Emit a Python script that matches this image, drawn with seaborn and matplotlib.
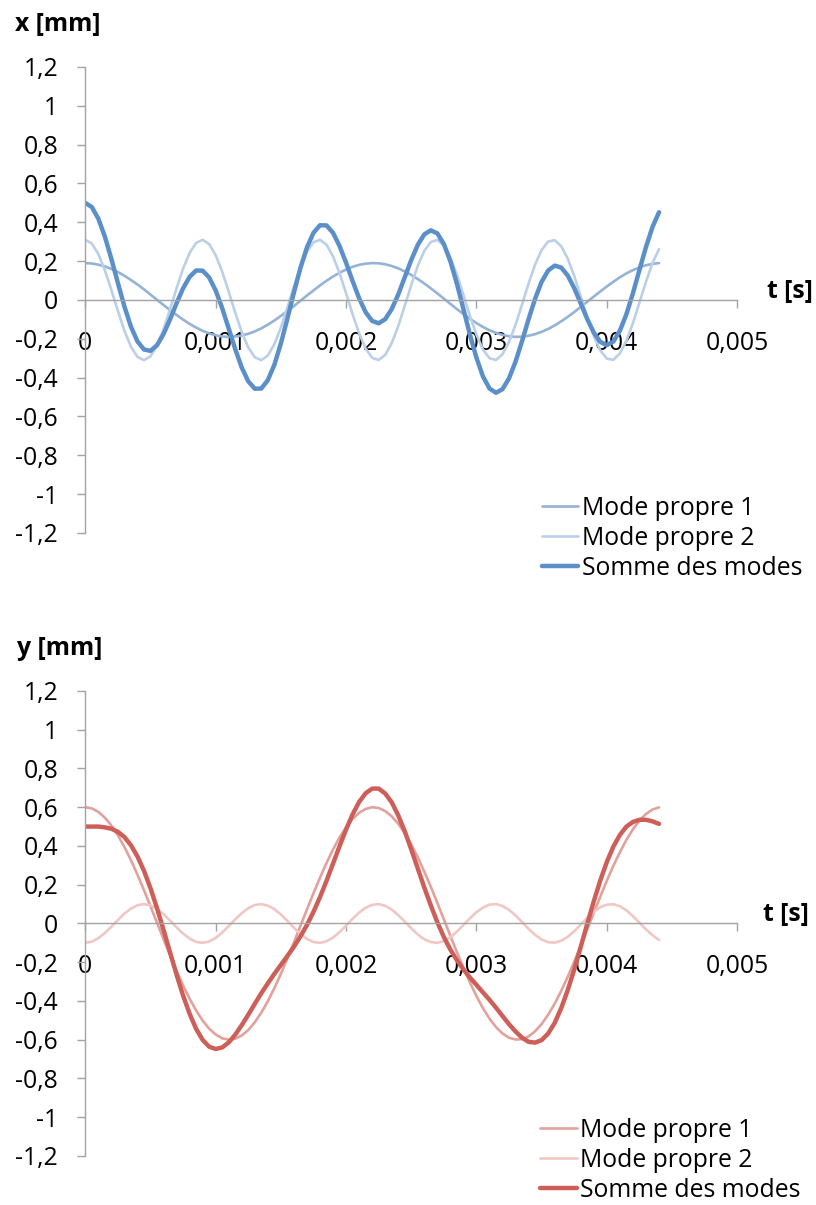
import matplotlib
matplotlib.use("Agg")
import matplotlib.pyplot as plt
import seaborn as sns
import pandas as pd

# Time samples [s]
t_s = [
    0.0, 0.00005, 0.0001, 0.00015, 0.0002, 0.00025, 0.0003, 0.00035, 0.0004, 0.00045,
    0.0005, 0.00055, 0.0006, 0.00065, 0.0007, 0.00075, 0.0008, 0.00085, 0.0009, 0.00095,
    0.001, 0.00105, 0.0011, 0.00115, 0.0012, 0.00125, 0.0013, 0.00135, 0.0014, 0.00145,
    0.0015, 0.00155, 0.0016, 0.00165, 0.0017, 0.00175, 0.0018, 0.00185, 0.0019, 0.00195,
    0.002, 0.00205, 0.0021, 0.00215, 0.0022, 0.00225, 0.0023, 0.00235, 0.0024, 0.00245,
    0.0025, 0.00255, 0.0026, 0.00265, 0.0027, 0.00275, 0.0028, 0.00285, 0.0029, 0.00295,
    0.003, 0.00305, 0.0031, 0.00315, 0.0032, 0.00325, 0.0033, 0.00335, 0.0034, 0.00345,
    0.0035, 0.00355, 0.0036, 0.00365, 0.0037, 0.00375, 0.0038, 0.00385, 0.0039, 0.00395,
    0.004, 0.00405, 0.0041, 0.00415, 0.0042, 0.00425, 0.0043, 0.00435, 0.0044,
]

# Displacement x [mm]
x_mode1 = [
    0.190, 0.188, 0.182, 0.173, 0.160, 0.144, 0.125, 0.103, 0.080, 0.055,
    0.028, 0.001, -0.026, -0.052, -0.077, -0.101, -0.123, -0.142, -0.159, -0.172,
    -0.182, -0.188, -0.190, -0.188, -0.183, -0.174, -0.162, -0.146, -0.127, -0.106,
    -0.082, -0.057, -0.031, -0.004, 0.023, 0.049, 0.075, 0.099, 0.121, 0.140,
    0.157, 0.171, 0.181, 0.187, 0.190, 0.189, 0.184, 0.175, 0.163, 0.147,
    0.129, 0.108, 0.085, 0.060, 0.034, 0.007, -0.020, -0.047, -0.072, -0.097,
    -0.119, -0.139, -0.156, -0.169, -0.180, -0.187, -0.190, -0.189, -0.184, -0.176,
    -0.164, -0.149, -0.131, -0.110, -0.087, -0.062, -0.036, -0.009, 0.018, 0.044,
    0.070, 0.094, 0.117, 0.137, 0.154, 0.168, 0.179, 0.186, 0.190,
]
x_mode2 = [
    0.310, 0.291, 0.237, 0.154, 0.052, -0.056, -0.158, -0.240, -0.293, -0.310,
    -0.290, -0.234, -0.150, -0.048, 0.060, 0.161, 0.242, 0.294, 0.310, 0.288,
    0.231, 0.146, 0.043, -0.065, -0.165, -0.245, -0.295, -0.310, -0.286, -0.228,
    -0.142, -0.039, 0.069, 0.169, 0.248, 0.297, 0.310, 0.285, 0.225, 0.138,
    0.035, -0.073, -0.172, -0.250, -0.298, -0.309, -0.283, -0.222, -0.135, -0.030,
    0.077, 0.176, 0.253, 0.299, 0.309, 0.281, 0.219, 0.131, 0.026, -0.082,
    -0.179, -0.255, -0.300, -0.309, -0.279, -0.216, -0.127, -0.022, 0.086, 0.183,
    0.258, 0.301, 0.308, 0.277, 0.213, 0.123, 0.018, -0.090, -0.186, -0.260,
    -0.302, -0.308, -0.275, -0.210, -0.119, -0.013, 0.094, 0.190, 0.262,
]
x_sum = [
    0.500, 0.479, 0.419, 0.327, 0.212, 0.088, -0.033, -0.137, -0.213, -0.255,
    -0.262, -0.233, -0.176, -0.100, -0.017, 0.060, 0.119, 0.152, 0.151, 0.116,
    0.049, -0.042, -0.147, -0.253, -0.348, -0.419, -0.457, -0.456, -0.413, -0.334,
    -0.224, -0.096, 0.038, 0.165, 0.271, 0.346, 0.385, 0.384, 0.346, 0.278,
    0.192, 0.098, 0.009, -0.063, -0.108, -0.120, -0.099, -0.047, 0.028, 0.117,
    0.206, 0.284, 0.338, 0.359, 0.343, 0.288, 0.199, 0.084, -0.046, -0.179,
    -0.298, -0.394, -0.456, -0.478, -0.459, -0.403, -0.317, -0.211, -0.098, 0.007,
    0.094, 0.152, 0.177, 0.167, 0.126, 0.061, -0.018, -0.099, -0.168, -0.216,
    -0.232, -0.214, -0.158, -0.073, 0.035, 0.155, 0.273, 0.376, 0.452,
]

# Displacement y [mm]
y_mode1 = [
    0.600, 0.594, 0.576, 0.546, 0.506, 0.455, 0.395, 0.327, 0.252, 0.172,
    0.089, 0.004, -0.081, -0.164, -0.244, -0.320, -0.388, -0.449, -0.501, -0.543,
    -0.573, -0.593, -0.600, -0.595, -0.578, -0.550, -0.510, -0.460, -0.401, -0.334,
    -0.260, -0.181, -0.098, -0.013, 0.072, 0.156, 0.236, 0.312, 0.382, 0.444,
    0.496, 0.539, 0.571, 0.591, 0.600, 0.596, 0.580, 0.553, 0.515, 0.466,
    0.407, 0.341, 0.267, 0.189, 0.106, 0.021, -0.064, -0.148, -0.229, -0.305,
    -0.375, -0.438, -0.491, -0.535, -0.568, -0.590, -0.599, -0.597, -0.583, -0.556,
    -0.519, -0.471, -0.414, -0.348, -0.275, -0.197, -0.114, -0.030, 0.055, 0.139,
    0.221, 0.298, 0.368, 0.432, 0.486, 0.531, 0.565, 0.588, 0.599,
]
y_mode2 = [
    -0.100, -0.094, -0.076, -0.050, -0.017, 0.018, 0.051, 0.077, 0.094, 0.100,
    0.093, 0.075, 0.048, 0.015, -0.020, -0.052, -0.078, -0.095, -0.100, -0.093,
    -0.075, -0.047, -0.014, 0.021, 0.053, 0.079, 0.095, 0.100, 0.092, 0.074,
    0.046, 0.013, -0.022, -0.054, -0.080, -0.096, -0.100, -0.092, -0.073, -0.045,
    -0.011, 0.024, 0.056, 0.081, 0.096, 0.100, 0.091, 0.072, 0.043, 0.010,
    -0.025, -0.057, -0.082, -0.096, -0.100, -0.091, -0.071, -0.042, -0.008, 0.026,
    0.058, 0.082, 0.097, 0.100, 0.090, 0.070, 0.041, 0.007, -0.028, -0.059,
    -0.083, -0.097, -0.099, -0.089, -0.069, -0.040, -0.006, 0.029, 0.060, 0.084,
    0.097, 0.099, 0.089, 0.068, 0.038, 0.004, -0.030, -0.061, -0.085,
]
y_sum = [
    0.500, 0.500, 0.500, 0.496, 0.489, 0.473, 0.446, 0.404, 0.346, 0.272,
    0.182, 0.079, -0.033, -0.149, -0.264, -0.372, -0.466, -0.544, -0.601, -0.636,
    -0.648, -0.640, -0.614, -0.574, -0.525, -0.471, -0.415, -0.360, -0.309, -0.260,
    -0.214, -0.168, -0.120, -0.067, -0.008, 0.060, 0.136, 0.220, 0.309, 0.399,
    0.485, 0.563, 0.627, 0.672, 0.696, 0.696, 0.671, 0.625, 0.558, 0.476,
    0.382, 0.284, 0.185, 0.093, 0.006, -0.070, -0.135, -0.190, -0.237, -0.279,
    -0.317, -0.356, -0.394, -0.435, -0.478, -0.520, -0.558, -0.590, -0.611, -0.615,
    -0.602, -0.568, -0.513, -0.437, -0.344, -0.237, -0.120, -0.001, 0.115, 0.223,
    0.318, 0.397, 0.457, 0.500, 0.524, 0.535, 0.535, 0.527, 0.514,
]

series_names = ["Mode propre 1", "Mode propre 2", "Somme des modes"]
t_ticks = [0, 0.001, 0.002, 0.003, 0.004, 0.005]
t_tick_labels = ["0", "0,001", "0,002", "0,003", "0,004", "0,005"]
amp_ticks = [1.2, 1.0, 0.8, 0.6, 0.4, 0.2, 0.0, -0.2, -0.4, -0.6, -0.8, -1.0, -1.2]
amp_tick_labels = ["1,2", "1", "0,8", "0,6", "0,4", "0,2", "0",
                   "-0,2", "-0,4", "-0,6", "-0,8", "-1", "-1,2"]

sns.set_style("white")
plt.rcParams["font.family"] = ["Open Sans", "DejaVu Sans"]
plt.rcParams["text.color"] = "black"

FS = 17.8
AXIS_GREY = "#A3A3A3"

fig = plt.figure(figsize=(8.16, 12.05), dpi=100)
ax_x = fig.add_axes([0.1045, 0.5577, 0.7990, 0.3867])
ax_y = fig.add_axes([0.1045, 0.0407, 0.7990, 0.3859])


def draw_panel(ax, curves, colors, widths, legend_anchor):
    frame = pd.DataFrame({"t": t_s})
    for name, values, color, lw in zip(series_names, curves, colors, widths):
        frame[name] = values
        sns.lineplot(data=frame, x="t", y=name, ax=ax, color=color,
                     linewidth=lw, label=name, solid_capstyle="round",
                     solid_joinstyle="round")

    ax.set_xlim(0, 0.005)
    ax.set_ylim(-1.2, 1.2)
    ax.set_xticks(t_ticks)
    ax.set_xticklabels(t_tick_labels)
    ax.set_yticks(amp_ticks)
    ax.set_yticklabels(amp_tick_labels)
    ax.set_xlabel("")
    ax.set_ylabel("")

    for side in ("top", "right"):
        ax.spines[side].set_visible(False)
    ax.spines["bottom"].set_position(("data", 0))
    for side in ("left", "bottom"):
        ax.spines[side].set_color(AXIS_GREY)
        ax.spines[side].set_linewidth(1.0)

    ax.tick_params(axis="both", direction="out", length=6, width=1.0,
                   color=AXIS_GREY, labelsize=FS, labelcolor="black")
    ax.tick_params(axis="y", pad=13.5, left=True)
    ax.tick_params(axis="x", pad=16, bottom=True)
    ax.set_facecolor("white")

    leg = ax.legend(loc="upper left", bbox_to_anchor=legend_anchor,
                    bbox_transform=fig.transFigure, frameon=False, fontsize=FS,
                    handlelength=1.48, handletextpad=0.15, labelspacing=0.2,
                    borderpad=0, borderaxespad=0)
    for txt in leg.get_texts():
        txt.set_color("black")


draw_panel(ax_x, [x_mode1, x_mode2, x_sum],
           ["#95B3D7", "#BBCFE7", "#5B8FC9"], [1.9, 1.9, 3.2],
           (0.6638, 0.5887))
draw_panel(ax_y, [y_mode1, y_mode2, y_sum],
           ["#E3A19C", "#F1C7C3", "#CD5F58"], [1.9, 1.9, 3.2],
           (0.6618, 0.0725))

fig.text(0.0184, 0.980, "x [mm]", fontsize=FS, fontweight="bold", va="center")
fig.text(0.940, 0.7585, "t [s]", fontsize=FS, fontweight="bold", va="center")
fig.text(0.0208, 0.4622, "y [mm]", fontsize=FS, fontweight="bold", va="center")
fig.text(0.935, 0.2415, "t [s]", fontsize=FS, fontweight="bold", va="center")

fig.savefig("out.png", dpi=100, facecolor="white")
